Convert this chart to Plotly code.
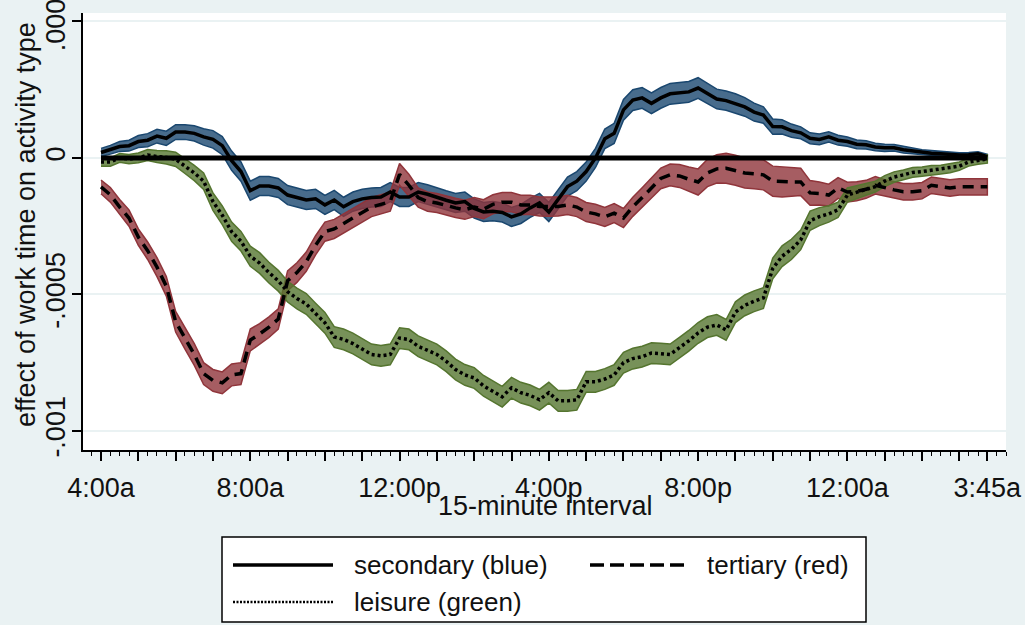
import plotly.graph_objects as go

# 15-minute intervals, 0 = 4:00a ... 95 = 3:45a
intervals = list(range(96))
SCALE = 1e-4  # values below are in units of 1e-4

secondary = [0.2, 0.3, 0.42, 0.45, 0.6, 0.65, 0.8, 0.72, 0.95, 0.95,
             0.9, 0.77, 0.68, 0.45, -0.1, -0.5, -1.2, -1.03, -1.03, -1.1,
             -1.36, -1.45, -1.54, -1.5, -1.72, -1.54, -1.79, -1.6, -1.5, -1.45,
             -1.43, -1.25, -1.43, -1.43, -1.25, -1.33, -1.45, -1.55, -1.65, -1.6,
             -1.85, -1.98, -1.95, -2.0, -2.16, -2.05, -1.83, -1.65, -1.98, -1.5,
             -1.05, -0.85, -0.5, 0.0, 0.7, 0.9, 1.76, 2.12, 2.2, 2.0,
             2.2, 2.35, 2.38, 2.42, 2.56, 2.35, 2.16, 2.1, 2.0, 1.87,
             1.68, 1.57, 1.15, 1.14, 1.0, 0.92, 0.72, 0.68, 0.77, 0.65,
             0.6, 0.5, 0.48, 0.4, 0.37, 0.37, 0.3, 0.25, 0.2, 0.17,
             0.15, 0.12, 0.11, 0.12, 0.15, 0.05]

tertiary = [-1.06, -1.35, -1.8, -2.2, -2.9, -3.4, -4.0, -4.7, -6.0, -6.6,
            -7.2, -7.9, -8.15, -8.24, -7.95, -7.9, -6.67, -6.45, -6.2, -5.9,
            -4.5, -4.2, -3.8, -3.2, -2.7, -2.6, -2.4, -2.2, -2.0, -1.8,
            -1.7, -1.6, -0.6, -1.0, -1.45, -1.6, -1.65, -1.75, -1.83, -1.9,
            -1.8, -1.88, -1.7, -1.62, -1.62, -1.72, -1.72, -1.78, -1.79, -1.78,
            -1.72, -1.8, -1.98, -2.05, -2.16, -2.02, -2.2, -1.79, -1.45, -1.1,
            -0.75, -0.62, -0.66, -0.78, -0.88, -0.55, -0.4, -0.38, -0.45, -0.55,
            -0.58, -0.62, -0.85, -0.88, -0.88, -0.88, -1.28, -1.3, -1.36, -1.1,
            -1.25, -1.22, -1.15, -1.0, -1.1, -1.17, -1.24, -1.24, -1.2, -1.0,
            -1.05, -1.1, -1.06, -1.06, -1.06, -1.06]

leisure = [-0.15, -0.15, 0.0, -0.04, 0.0, 0.11, 0.05, 0.02, -0.05, -0.3,
           -0.55, -0.85, -1.6, -2.1, -2.7, -3.05, -3.6, -3.85, -4.2, -4.5,
           -4.9, -5.15, -5.35, -5.7, -6.04, -6.56, -6.65, -6.8, -7.0, -7.2,
           -7.25, -7.2, -6.6, -6.65, -6.9, -7.05, -7.2, -7.45, -7.75, -7.95,
           -8.06, -8.35, -8.55, -8.75, -8.42, -8.6, -8.7, -8.86, -8.6, -8.9,
           -8.9, -8.86, -8.2, -8.2, -8.1, -7.95, -7.5, -7.35, -7.28, -7.15,
           -7.17, -7.2, -6.95, -6.7, -6.41, -6.2, -6.12, -6.3, -5.65, -5.4,
           -5.25, -5.13, -4.05, -3.6, -3.35, -3.0, -2.3, -2.15, -2.05, -1.9,
           -1.36, -1.25, -1.15, -1.05, -0.85, -0.7, -0.62, -0.53, -0.5, -0.45,
           -0.43, -0.38, -0.3, -0.15, -0.08, -0.04]

# confidence-band half widths (same units)
secondary_hw = [0.15, 0.16, 0.18, 0.2, 0.22, 0.24, 0.25, 0.26, 0.27, 0.27,
                0.28, 0.3, 0.32, 0.33, 0.35, 0.35, 0.35, 0.35, 0.35, 0.35,
                0.35, 0.35, 0.35, 0.35, 0.35, 0.35, 0.35, 0.35, 0.35, 0.35,
                0.35, 0.35, 0.35, 0.35, 0.35, 0.35, 0.35, 0.35, 0.35, 0.35,
                0.35, 0.35, 0.35, 0.35, 0.35, 0.35, 0.35, 0.35, 0.35, 0.35,
                0.35, 0.35, 0.35, 0.35, 0.36, 0.37, 0.38, 0.38, 0.38, 0.38,
                0.38, 0.38, 0.38, 0.38, 0.38, 0.37, 0.36, 0.35, 0.35, 0.34,
                0.33, 0.3, 0.28, 0.26, 0.24, 0.22, 0.2, 0.2, 0.19, 0.18,
                0.17, 0.16, 0.15, 0.14, 0.13, 0.12, 0.12, 0.11, 0.1, 0.1,
                0.09, 0.09, 0.08, 0.08, 0.08, 0.08]

tertiary_hw = [0.25, 0.27, 0.28, 0.3, 0.3, 0.32, 0.35, 0.36, 0.38, 0.4,
               0.4, 0.4, 0.4, 0.4, 0.4, 0.4, 0.4, 0.38, 0.38, 0.37,
               0.36, 0.36, 0.35, 0.35, 0.35, 0.35, 0.35, 0.35, 0.35, 0.35,
               0.35, 0.35, 0.4, 0.4, 0.35, 0.35, 0.35, 0.35, 0.35, 0.35,
               0.35, 0.35, 0.35, 0.35, 0.35, 0.35, 0.35, 0.35, 0.35, 0.35,
               0.35, 0.35, 0.35, 0.35, 0.35, 0.35, 0.35, 0.35, 0.36, 0.37,
               0.38, 0.4, 0.42, 0.45, 0.48, 0.5, 0.52, 0.55, 0.55, 0.55,
               0.55, 0.55, 0.55, 0.55, 0.52, 0.5, 0.45, 0.42, 0.4, 0.38,
               0.36, 0.35, 0.33, 0.32, 0.3, 0.3, 0.3, 0.3, 0.3, 0.3,
               0.3, 0.3, 0.3, 0.3, 0.3, 0.3]

leisure_hw = [0.15, 0.15, 0.16, 0.17, 0.18, 0.2, 0.22, 0.24, 0.26, 0.27,
              0.28, 0.3, 0.32, 0.34, 0.35, 0.36, 0.37, 0.38, 0.38, 0.38,
              0.38, 0.38, 0.38, 0.38, 0.38, 0.38, 0.38, 0.38, 0.38, 0.38,
              0.38, 0.38, 0.38, 0.38, 0.38, 0.38, 0.38, 0.38, 0.38, 0.38,
              0.38, 0.38, 0.38, 0.38, 0.38, 0.38, 0.38, 0.38, 0.38, 0.38,
              0.38, 0.38, 0.38, 0.38, 0.38, 0.38, 0.38, 0.38, 0.38, 0.38,
              0.38, 0.38, 0.38, 0.38, 0.38, 0.38, 0.38, 0.38, 0.38, 0.38,
              0.38, 0.38, 0.38, 0.38, 0.37, 0.36, 0.35, 0.33, 0.3, 0.28,
              0.26, 0.24, 0.22, 0.2, 0.2, 0.19, 0.18, 0.18, 0.17, 0.17,
              0.16, 0.16, 0.15, 0.15, 0.15, 0.15]

tick_positions = [0, 4, 8, 12, 16, 20, 24, 28, 32, 36, 40, 44, 48, 52, 56, 60,
                  64, 68, 72, 76, 80, 84, 88, 92, 95]
tick_labels = {0: "4:00a", 16: "8:00a", 32: "12:00p", 48: "4:00p",
               64: "8:00p", 80: "12:00a", 95: "3:45a"}
y_tick_values = [-0.001, -0.0005, 0, 0.0005]
y_tick_text = ["-.001", "-.0005", "0", ".0005"]

FONT = "Liberation Sans, Arial, Helvetica, sans-serif"
BG = "#EAF2F3"
TXT = "#111111"

series = [
    ("secondary (blue)", secondary, secondary_hw, "rgba(26,71,111,0.8)", "#1A476F", "solid"),
    ("tertiary (red)", tertiary, tertiary_hw, "rgba(144,53,59,0.8)", "#90353B", "11px,7px"),
    ("leisure (green)", leisure, leisure_hw, "rgba(85,117,47,0.8)", "#55752F", "3px,3px"),
]

fig = go.Figure()

for name, vals, hw, fill, edge, dash in series:
    upper = [(v + h) * SCALE for v, h in zip(vals, hw)]
    lower = [(v - h) * SCALE for v, h in zip(vals, hw)]
    fig.add_trace(go.Scatter(
        x=intervals + intervals[::-1], y=upper + lower[::-1],
        fill="toself", fillcolor=fill, mode="lines",
        line=dict(color=edge, width=1.5), hoverinfo="skip", showlegend=False))

fig.add_trace(go.Scatter(x=[intervals[0], intervals[-1]], y=[0, 0], mode="lines",
                         line=dict(color="black", width=5), showlegend=False))

for name, vals, hw, fill, edge, dash in series:
    fig.add_trace(go.Scatter(
        x=intervals, y=[v * SCALE for v in vals], mode="lines", name=name,
        line=dict(color="black", width=3.5, dash=dash), showlegend=False))

fig.update_layout(
    width=1025, height=625,
    margin=dict(l=83, r=19, t=13, b=175, autoexpand=False),
    paper_bgcolor=BG, plot_bgcolor="white",
    font=dict(family=FONT, size=27, color=TXT),
    showlegend=False,
)

fig.update_xaxes(
    range=[-1.93, 97.0], showgrid=False, zeroline=False, automargin=False,
    showline=True, linecolor="black", linewidth=1.5,
    tickmode="array", tickvals=tick_positions,
    ticktext=[tick_labels.get(t, "") for t in tick_positions],
    ticks="outside", ticklen=9, tickwidth=1.5, tickcolor="black",
    tickfont=dict(size=27, color=TXT), ticklabelstandoff=4,
    ticklabeloverflow="allow",
    minor=dict(tickmode="linear", tick0=0, dtick=1, ticks="outside",
               ticklen=4, tickwidth=1.2, tickcolor="black", showgrid=False),
)

fig.update_yaxes(
    range=[-0.00107, 0.000531], zeroline=False, automargin=False,
    showgrid=True, gridcolor=BG, gridwidth=2,
    showline=True, linecolor="black", linewidth=1.5,
    tickmode="array", tickvals=y_tick_values, ticktext=y_tick_text,
    tickangle=-90, ticks="outside", ticklen=9, tickwidth=1.5, tickcolor="black",
    tickfont=dict(size=27, color=TXT), ticklabelstandoff=-4,
    ticklabeloverflow="allow",
)

# axis titles
def py(p):
    return (450 - p) / 437.0

def px(p):
    return (p - 83) / 923.0

fig.add_annotation(text="15-minute interval", xref="paper", yref="paper",
                   x=px(545), y=py(506), showarrow=False,
                   xanchor="center", yanchor="middle", font=dict(size=27))
fig.add_annotation(text="effect of work time on activity type", xref="paper", yref="paper",
                   x=px(26), y=py(225), showarrow=False, textangle=-90,
                   xanchor="center", yanchor="middle", font=dict(size=27))

# legend box
fig.add_shape(type="rect", xref="paper", yref="paper",
              x0=px(222), x1=px(866), y0=py(537), y1=py(622),
              line=dict(color="black", width=1.5), fillcolor="white", layer="above")
legend_items = [
    ("secondary (blue)", "solid", 3.5, 233, 333, 565, 352),
    ("tertiary (red)", "14px,6px", 3.5, 590, 690, 565, 705),
    ("leisure (green)", "2px,1.5px", 2.5, 233, 333, 602, 352),
]
for label, dash, w, x0, x1, yy, tx in legend_items:
    fig.add_shape(type="line", xref="paper", yref="paper",
                  x0=px(x0), x1=px(x1), y0=py(yy), y1=py(yy),
                  line=dict(color="black", width=w, dash=dash), layer="above")
    fig.add_annotation(text=label, xref="paper", yref="paper",
                       x=px(tx), y=py(yy), showarrow=False,
                       xanchor="left", yanchor="middle", font=dict(size=26))

fig.write_html("out.html")
